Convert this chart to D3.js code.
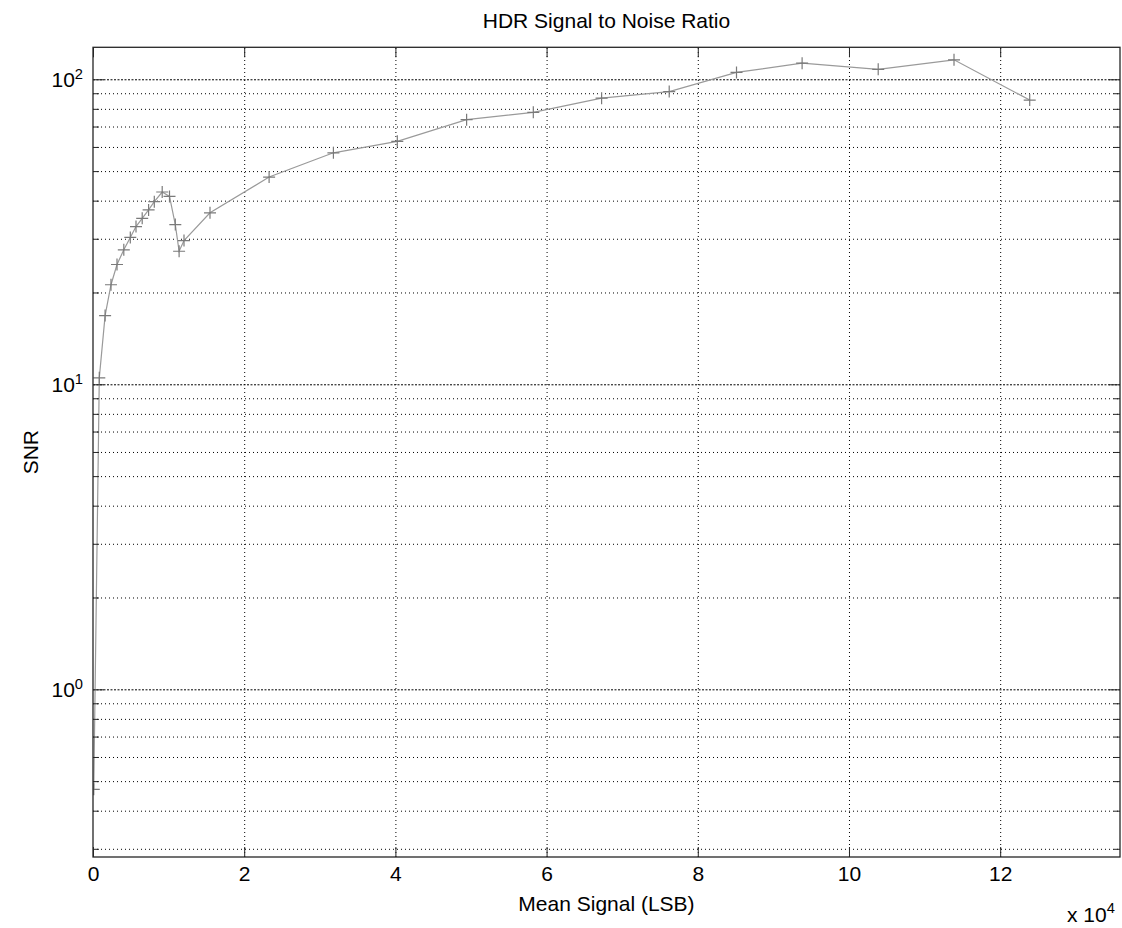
<!DOCTYPE html>
<html>
<head>
<meta charset="utf-8">
<script src="https://cdn.jsdelivr.net/npm/d3@7"></script>
<style>
	body { margin: 0; background: white; }
	text { font-family: "Liberation Sans", Arial, sans-serif; fill: #000; }
</style>
</head>
<body>
<script>
// values
var meanSignal = [100, 833, 1600, 2380, 3175, 4075, 4934, 5688, 6508, 7355, 8109, 9154, 10120, 10887, 11390, 12038,
	15477, 23295, 31800, 40253, 49420, 58243, 67278, 76220, 85122, 93800, 103866, 113893, 123907]
var snr = [0.47, 10.5, 16.8, 21.2, 24.7, 27.6, 30.3, 32.9, 35.0, 37.3, 39.7, 42.7, 41.3, 33.4, 27.3, 29.6,
	36.5, 47.8, 57.4, 62.6, 73.7, 77.9, 86.7, 91.1, 105.3, 112.9, 107.8, 115.8, 85.5]

var xTicks = [0, 20000, 40000, 60000, 80000, 100000, 120000]
var yDecades = [1, 10, 100]
var yMinor = [0.3, 0.4, 0.5, 0.6, 0.7, 0.8, 0.9, 2, 3, 4, 5, 6, 7, 8, 9, 20, 30, 40, 50, 60, 70, 80, 90]

var w = 1122
var h = 928
var padLeft = 93, padRight = 1120, padTop = 47.3, padBottom = 857
var fontSize = 21

var svg = d3.select("body")
	.append("svg")
	.attr("width", w)
	.attr("height", h)

// Scales
var xScale = d3.scaleLinear()
	.domain([0, 135850])
	.range([padLeft, padRight])

var yScale = d3.scaleLog()
	.domain([0.282, 127.3])
	.range([padBottom, padTop])

// Grid
var xGrid = svg.append("g")
	.attr("transform", "translate(0," + padBottom + ")")
	.call(d3.axisBottom(xScale).tickValues(xTicks.slice(1)).tickSize(-(padBottom - padTop)).tickFormat(""))
xGrid.select(".domain").remove()
xGrid.selectAll("line").attr("stroke", "#000").attr("stroke-dasharray", "1,3")

var yGridMinor = svg.append("g")
	.attr("transform", "translate(" + padLeft + ",0)")
	.call(d3.axisLeft(yScale).tickValues(yMinor).tickSize(-(padRight - padLeft)).tickFormat(""))
yGridMinor.select(".domain").remove()
yGridMinor.selectAll("line").attr("stroke", "#000").attr("stroke-dasharray", "1,3")

var yGridMajor = svg.append("g")
	.attr("transform", "translate(" + padLeft + ",0)")
	.call(d3.axisLeft(yScale).tickValues(yDecades).tickSize(-(padRight - padLeft)).tickFormat(""))
yGridMajor.select(".domain").remove()
yGridMajor.selectAll("line").attr("stroke", "#000").attr("stroke-dasharray", "2,1.5")

// Data
svg.append("clipPath").attr("id", "clip")
	.append("rect")
	.attr("x", padLeft).attr("y", padTop)
	.attr("width", padRight - padLeft).attr("height", padBottom - padTop)
var plotArea = svg.append("g").attr("clip-path", "url(#clip)")

var line = d3.line()
	.x((d, i) => xScale(meanSignal[i]))
	.y((d, i) => yScale(snr[i]))

plotArea.append("path")
	.datum(snr)
	.attr("d", line)
	.attr("fill", "none")
	.attr("stroke", "#9a9a9a")
	.attr("stroke-width", 1.2)

var m = 6
plotArea.selectAll(".marker")
	.data(snr)
	.enter()
	.append("path")
	.attr("class", "marker")
	.attr("d", function(d, i){
		var cx = xScale(meanSignal[i]), cy = yScale(d)
		return "M" + (cx - m) + "," + cy + "H" + (cx + m) + "M" + cx + "," + (cy - m) + "V" + (cy + m)
	})
	.attr("stroke", "#7a7a7a")
	.attr("stroke-width", 1.2)
	.attr("fill", "none")

// Box
svg.append("rect")
	.attr("x", padLeft).attr("y", padTop)
	.attr("width", padRight - padLeft).attr("height", padBottom - padTop)
	.attr("fill", "none")
	.attr("stroke", "#262626")
	.attr("stroke-width", 1.3)

// Axes
var xAxis = svg.append("g")
	.attr("transform", "translate(0," + padBottom + ")")
	.call(d3.axisBottom(xScale).tickValues(xTicks).tickSize(-10).tickPadding(9).tickFormat((d) => d / 10000))
xAxis.select(".domain").remove()
xAxis.selectAll("line").attr("stroke", "#262626")
xAxis.selectAll("text").style("font-size", fontSize + "px").style("font-family", "Liberation Sans, Arial, sans-serif").attr("fill", "#000")

var xAxisTop = svg.append("g")
	.attr("transform", "translate(0," + padTop + ")")
	.call(d3.axisTop(xScale).tickValues(xTicks).tickSize(-10).tickFormat(""))
xAxisTop.select(".domain").remove()
xAxisTop.selectAll("line").attr("stroke", "#262626")

function yTicks(axisFn, x, values, size){
	var g = svg.append("g")
		.attr("transform", "translate(" + x + ",0)")
		.call(axisFn(yScale).tickValues(values).tickSize(-size).tickFormat(""))
	g.select(".domain").remove()
	g.selectAll("line").attr("stroke", "#262626")
	return g
}

var yAxis = yTicks(d3.axisLeft, padLeft, yDecades, 11)
yTicks(d3.axisLeft, padLeft, yMinor, 6)
yTicks(d3.axisRight, padRight, yDecades, 11)
yTicks(d3.axisRight, padRight, yMinor, 6)

// decade labels as 10 with a raised exponent
yAxis.selectAll(".tick text").remove()
yAxis.selectAll(".tick")
	.append("text")
	.attr("x", -10)
	.attr("dy", "0.36em")
	.attr("text-anchor", "end")
	.style("font-size", fontSize + "px")
	.each(function(d){
		var t = d3.select(this)
		t.append("tspan").text("10")
		t.append("tspan").attr("dy", "-0.6em").style("font-size", (fontSize * 0.7) + "px").text(Math.round(Math.log10(d)))
	})

// Labels
svg.append("text")
	.attr("x", (padLeft + padRight) / 2)
	.attr("y", 28)
	.attr("text-anchor", "middle")
	.style("font-size", fontSize + "px")
	.text("HDR Signal to Noise Ratio")

svg.append("text")
	.attr("x", (padLeft + padRight) / 2)
	.attr("y", 911)
	.attr("text-anchor", "middle")
	.style("font-size", fontSize + "px")
	.text("Mean Signal (LSB)")

svg.append("text")
	.attr("transform", "translate(38," + ((padTop + padBottom) / 2) + ") rotate(-90)")
	.attr("text-anchor", "middle")
	.style("font-size", fontSize + "px")
	.text("SNR")

var mult = svg.append("text")
	.attr("x", 1067)
	.attr("y", 922)
	.style("font-size", fontSize + "px")
mult.append("tspan").text("x 10")
mult.append("tspan").attr("dy", "-0.6em").style("font-size", (fontSize * 0.7) + "px").text("4")
</script>
</body>
</html>
